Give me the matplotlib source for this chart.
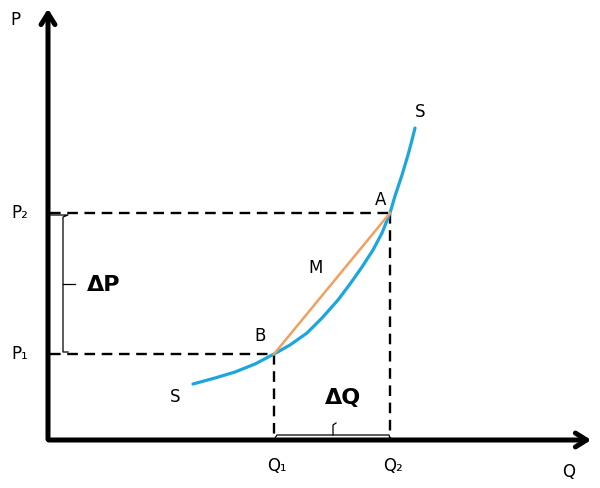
import matplotlib
matplotlib.use('Agg')
import matplotlib.pyplot as plt
import numpy as np

# diagram coordinates (image pixels, y grows downward)
origin = (48, 440)
q_levels = [274, 390]          # Q1, Q2
p_levels = [354, 213]          # P1, P2
q_labels = ['Q₁', 'Q₂']
p_labels = ['P₁', 'P₂']

# supply curve S
supply_x = [193, 215, 235, 255, 274, 290, 307, 322, 338, 350, 362, 373, 382, 388,
            390, 395, 402, 408, 412, 415]
supply_y = [384, 378, 372, 364, 354, 345, 333, 318, 300, 284, 267, 250, 233, 218,
            213, 196, 175, 155, 140, 128]

blue = '#1ca6e0'
orange = '#f0a060'

fig = plt.figure(figsize=(6, 4.88), dpi=100)
ax = fig.add_axes([0, 0, 1, 1])
ax.set_xlim(0, 600)
ax.set_ylim(488, 0)
ax.axis('off')

# axes with arrows
ax.annotate('', xy=(origin[0], 6), xytext=(origin[0], origin[1] + 2),
            arrowprops=dict(arrowstyle='->, head_length=0.8, head_width=0.5', lw=3.6, color='black'))
ax.annotate('', xy=(594, origin[1]), xytext=(origin[0] - 2, origin[1]),
            arrowprops=dict(arrowstyle='->, head_length=0.8, head_width=0.5', lw=3.6, color='black'))
ax.text(15, 20, 'P', fontsize=12, ha='center', va='center')
ax.text(569, 472, 'Q', fontsize=12, ha='center', va='center')

# dashed guides
dash = dict(color='black', lw=1.7, dashes=(4.5, 2.8))
for q, p in zip(q_levels, p_levels):
    ax.plot([origin[0] + 2, q], [p, p], **dash)
    ax.plot([q, q], [p, origin[1]], **dash)

for q, lab in zip(q_levels, q_labels):
    ax.text(q + 3, 466, lab, fontsize=12, ha='center', va='center')
for p, lab in zip(p_levels, p_labels):
    ax.text(20, p, lab, fontsize=12, ha='center', va='center')

# supply curve and chord
ax.plot(supply_x, supply_y, color=blue, lw=2.3, solid_capstyle='round', solid_joinstyle='round')
ax.plot([q_levels[0], q_levels[1]], [p_levels[0], p_levels[1]], color=orange, lw=1.8)

ax.text(175, 397, 'S', fontsize=12, ha='center', va='center')
ax.text(420, 112, 'S', fontsize=12, ha='center', va='center')
ax.text(381, 200, 'A', fontsize=12, ha='center', va='center')
ax.text(260, 336, 'B', fontsize=12, ha='center', va='center')
ax.text(316, 268, 'M', fontsize=12, ha='center', va='center')

# delta P bracket
bx = 63
ax.plot([origin[0] + 2, bx + 5, bx, bx, bx + 5], [p_levels[1] + 2, p_levels[1] + 2, p_levels[1] + 4, p_levels[0] - 2, p_levels[0] - 2],
        color='black', lw=0.9)
pm = (p_levels[0] + p_levels[1]) / 2
ax.plot([bx, bx + 12], [pm, pm], color='black', lw=0.9)
ax.text(104, 285, 'ΔP', fontsize=16, fontweight='bold', ha='center', va='center')

# delta Q bracket
by = 435
ax.plot([q_levels[0] + 1, q_levels[0] + 3, q_levels[1] - 1, q_levels[1]], [origin[1] - 2, by, by, origin[1] - 2],
        color='black', lw=0.9)
qm = (q_levels[0] + q_levels[1]) / 2 + 1
ax.plot([qm, qm, qm + 3], [by, by - 10, by - 12], color='black', lw=0.9)
ax.text(343, 398, 'ΔQ', fontsize=16, fontweight='bold', ha='center', va='center')

fig.savefig('out.png', dpi=100)
